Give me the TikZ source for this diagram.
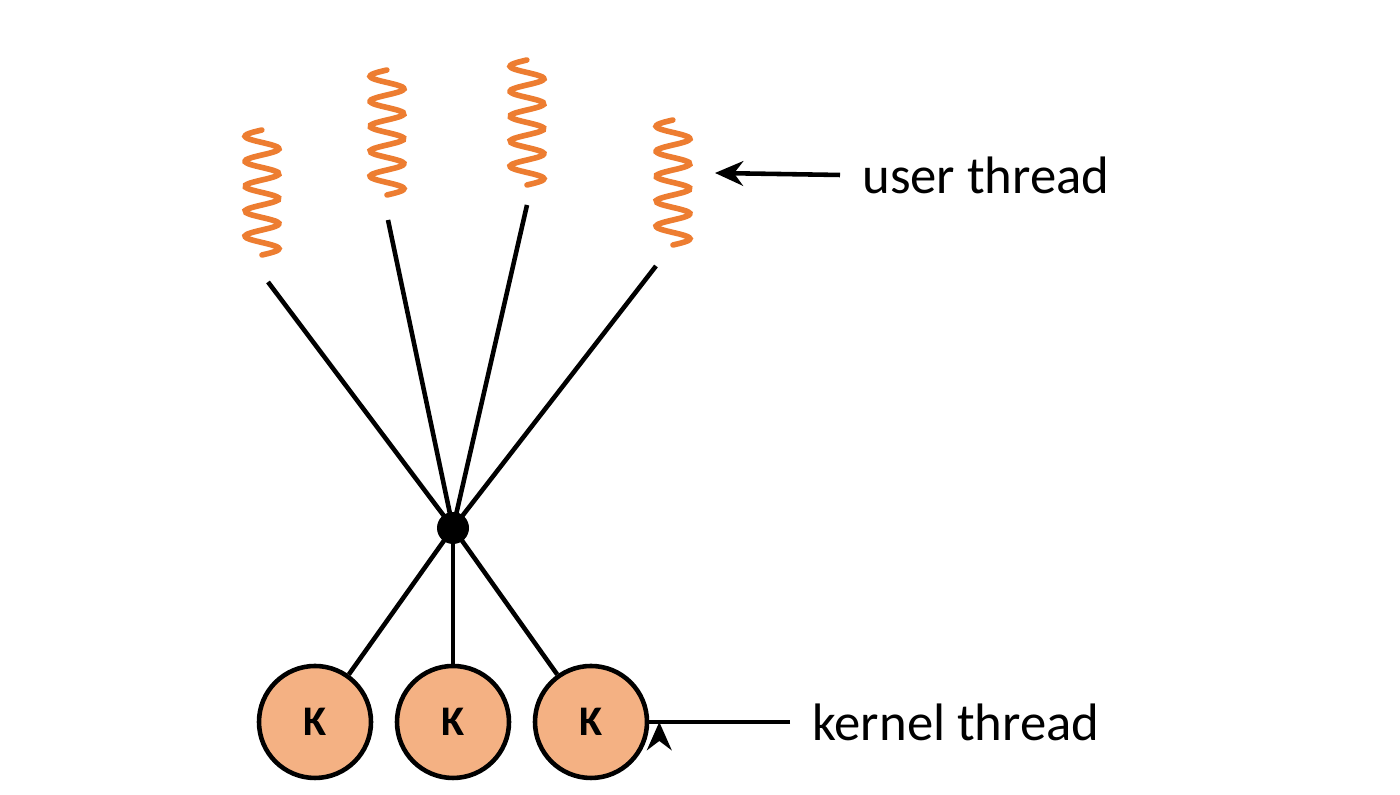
\documentclass[tikz,border=0pt]{standalone}
\usepackage{fontspec}
\setmainfont{Carlito}
\usetikzlibrary{arrows.meta}
\definecolor{uorange}{RGB}{237,125,49}
\definecolor{kfill}{RGB}{244,177,131}
\tikzset{
  link/.style={line width=1.3pt},
  squig/.style={uorange, line width=1.6pt, line cap=round},
  kernel/.style={circle, draw, line width=1.3pt, fill=kfill, minimum size=1.12cm, inner sep=0pt, font=\bfseries\large},
  label/.style={font=\fontsize{15}{18}\selectfont, anchor=west},
  pointer/.style={line width=1.3pt, -{Stealth[length=8pt,width=7pt]}}
}
\newcommand{\squiggle}[2]{%
  \draw[squig] plot[smooth, samples=60, domain=0:1.25] ({#1+0.17*sin(\x*720/0.5)+0.05}, {#2+\x});}
\begin{document}
\begin{tikzpicture}
\useasboundingbox (0,0) rectangle (14,7.95);
% user threads
\squiggle{2.57}{5.4}
\squiggle{3.82}{6.0}
\squiggle{5.22}{6.1}
\squiggle{6.68}{5.5}
\coordinate (u1) at (2.68,5.13);
\coordinate (u2) at (3.88,5.75);
\coordinate (u3) at (5.27,5.9);
\coordinate (u4) at (6.56,5.29);
\node (hub) [circle, fill=black, minimum size=0.32cm, inner sep=0pt] at (4.53,2.67) {};
% kernel threads
\node (k1) [kernel] at (3.15,0.73) {K};
\node (k2) [kernel] at (4.53,0.73) {K};
\node (k3) [kernel] at (5.91,0.73) {K};
\foreach \u in {u1,u2,u3,u4} \draw[link] (hub.center) -- (\u);
\foreach \k in {k1,k2,k3} \draw[link] (hub.center) -- (\k);
% labels
\node (ut) [label] at (8.5,6.2) {user thread};
\node (kt) [label] at (8.0,0.73) {kernel thread};
\draw[pointer] (ut.west) ++(-0.1,0) -- (7.15,6.22);
\draw[pointer] (kt.west) ++(-0.1,0) -- (k3.east) ++(0.1,0);
\end{tikzpicture}
\end{document}
